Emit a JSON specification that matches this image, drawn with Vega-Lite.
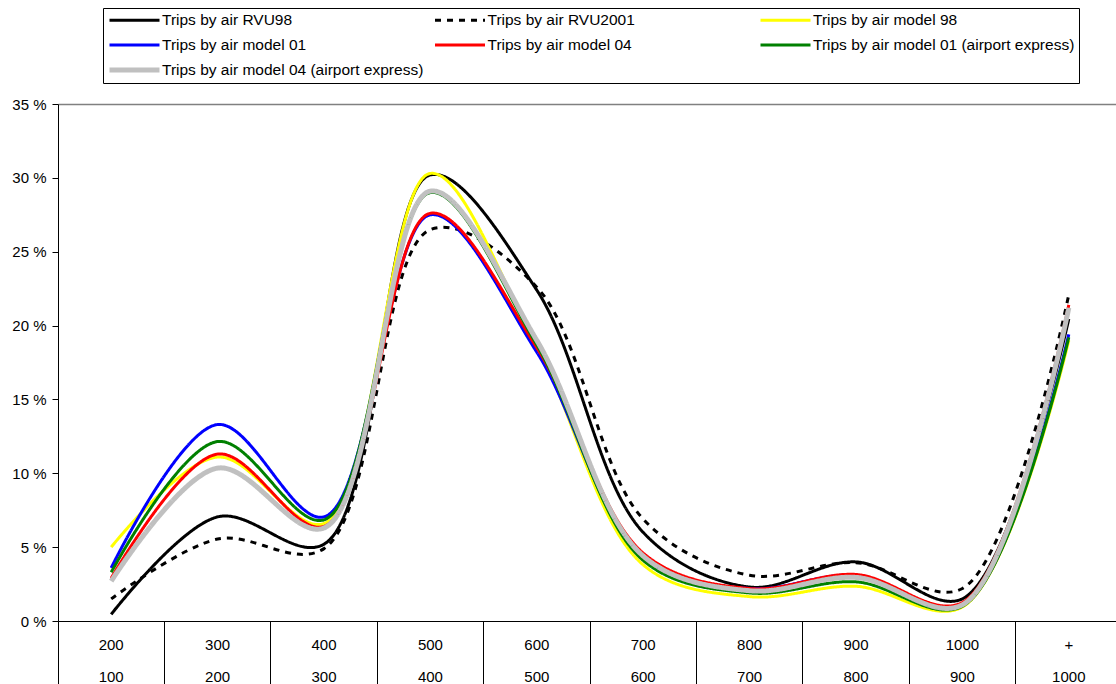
{
  "$schema": "https://vega.github.io/schema/vega-lite/v6.json",
  "autosize": {"type": "none"},
  "padding": {"left": 58, "top": 104, "right": -6, "bottom": 63},
  "width": 1064,
  "height": 517,
  "background": "white",
  "config": {
    "view": {"stroke": null},
    "font": "Liberation Sans"
  },
  "data": {
    "values": [
      {"cat": "200|100", "series": "Trips by air RVU98", "value": 0.45},
      {"cat": "300|200", "series": "Trips by air RVU98", "value": 7.05},
      {"cat": "400|300", "series": "Trips by air RVU98", "value": 5.2},
      {"cat": "500|400", "series": "Trips by air RVU98", "value": 30.2},
      {"cat": "600|500", "series": "Trips by air RVU98", "value": 22.4},
      {"cat": "700|600", "series": "Trips by air RVU98", "value": 6.0},
      {"cat": "800|700", "series": "Trips by air RVU98", "value": 2.3},
      {"cat": "900|800", "series": "Trips by air RVU98", "value": 4.0},
      {"cat": "1000|900", "series": "Trips by air RVU98", "value": 1.5},
      {"cat": "+|1000", "series": "Trips by air RVU98", "value": 20.45},

      {"cat": "200|100", "series": "Trips by air RVU2001", "value": 1.5},
      {"cat": "300|200", "series": "Trips by air RVU2001", "value": 5.55},
      {"cat": "400|300", "series": "Trips by air RVU2001", "value": 4.9},
      {"cat": "500|400", "series": "Trips by air RVU2001", "value": 26.5},
      {"cat": "600|500", "series": "Trips by air RVU2001", "value": 22.6},
      {"cat": "700|600", "series": "Trips by air RVU2001", "value": 6.9},
      {"cat": "800|700", "series": "Trips by air RVU2001", "value": 3.1},
      {"cat": "900|800", "series": "Trips by air RVU2001", "value": 3.95},
      {"cat": "1000|900", "series": "Trips by air RVU2001", "value": 2.2},
      {"cat": "+|1000", "series": "Trips by air RVU2001", "value": 22.1},

      {"cat": "200|100", "series": "Trips by air model 98", "value": 5.0},
      {"cat": "300|200", "series": "Trips by air model 98", "value": 11.1},
      {"cat": "400|300", "series": "Trips by air model 98", "value": 6.6},
      {"cat": "500|400", "series": "Trips by air model 98", "value": 30.3},
      {"cat": "600|500", "series": "Trips by air model 98", "value": 18.6},
      {"cat": "700|600", "series": "Trips by air model 98", "value": 3.8},
      {"cat": "800|700", "series": "Trips by air model 98", "value": 1.65},
      {"cat": "900|800", "series": "Trips by air model 98", "value": 2.35},
      {"cat": "1000|900", "series": "Trips by air model 98", "value": 0.95},
      {"cat": "+|1000", "series": "Trips by air model 98", "value": 19.0},

      {"cat": "200|100", "series": "Trips by air model 01", "value": 3.6},
      {"cat": "300|200", "series": "Trips by air model 01", "value": 13.3},
      {"cat": "400|300", "series": "Trips by air model 01", "value": 7.05},
      {"cat": "500|400", "series": "Trips by air model 01", "value": 27.5},
      {"cat": "600|500", "series": "Trips by air model 01", "value": 18.2},
      {"cat": "700|600", "series": "Trips by air model 01", "value": 4.3},
      {"cat": "800|700", "series": "Trips by air model 01", "value": 2.2},
      {"cat": "900|800", "series": "Trips by air model 01", "value": 3.1},
      {"cat": "1000|900", "series": "Trips by air model 01", "value": 1.05},
      {"cat": "+|1000", "series": "Trips by air model 01", "value": 19.4},

      {"cat": "200|100", "series": "Trips by air model 04", "value": 2.9},
      {"cat": "300|200", "series": "Trips by air model 04", "value": 11.3},
      {"cat": "400|300", "series": "Trips by air model 04", "value": 6.4},
      {"cat": "500|400", "series": "Trips by air model 04", "value": 27.6},
      {"cat": "600|500", "series": "Trips by air model 04", "value": 18.5},
      {"cat": "700|600", "series": "Trips by air model 04", "value": 4.6},
      {"cat": "800|700", "series": "Trips by air model 04", "value": 2.2},
      {"cat": "900|800", "series": "Trips by air model 04", "value": 3.15},
      {"cat": "1000|900", "series": "Trips by air model 04", "value": 1.25},
      {"cat": "+|1000", "series": "Trips by air model 04", "value": 21.4},

      {"cat": "200|100", "series": "Trips by air model 01 (airport express)", "value": 3.3},
      {"cat": "300|200", "series": "Trips by air model 01 (airport express)", "value": 12.15},
      {"cat": "400|300", "series": "Trips by air model 01 (airport express)", "value": 6.85},
      {"cat": "500|400", "series": "Trips by air model 01 (airport express)", "value": 29.0},
      {"cat": "600|500", "series": "Trips by air model 01 (airport express)", "value": 18.7},
      {"cat": "700|600", "series": "Trips by air model 01 (airport express)", "value": 4.1},
      {"cat": "800|700", "series": "Trips by air model 01 (airport express)", "value": 1.9},
      {"cat": "900|800", "series": "Trips by air model 01 (airport express)", "value": 2.65},
      {"cat": "1000|900", "series": "Trips by air model 01 (airport express)", "value": 1.0},
      {"cat": "+|1000", "series": "Trips by air model 01 (airport express)", "value": 19.2},

      {"cat": "200|100", "series": "Trips by air model 04 (airport express)", "value": 2.7},
      {"cat": "300|200", "series": "Trips by air model 04 (airport express)", "value": 10.35},
      {"cat": "400|300", "series": "Trips by air model 04 (airport express)", "value": 6.3},
      {"cat": "500|400", "series": "Trips by air model 04 (airport express)", "value": 29.1},
      {"cat": "600|500", "series": "Trips by air model 04 (airport express)", "value": 19.0},
      {"cat": "700|600", "series": "Trips by air model 04 (airport express)", "value": 4.4},
      {"cat": "800|700", "series": "Trips by air model 04 (airport express)", "value": 2.05},
      {"cat": "900|800", "series": "Trips by air model 04 (airport express)", "value": 2.95},
      {"cat": "1000|900", "series": "Trips by air model 04 (airport express)", "value": 1.1},
      {"cat": "+|1000", "series": "Trips by air model 04 (airport express)", "value": 21.2}
    ]
  },
  "mark": {"type": "line", "interpolate": "catmull-rom", "strokeCap": "butt"},
  "encoding": {
    "x": {
      "field": "cat",
      "type": "ordinal",
      "bandPosition": 0.5,
      "sort": ["200|100", "300|200", "400|300", "500|400", "600|500", "700|600", "800|700", "900|800", "1000|900", "+|1000"],
      "scale": {"type": "band", "paddingInner": 0, "paddingOuter": 0},
      "axis": {
        "title": null,
        "bandPosition": 0,
        "domainColor": "black",
        "domainWidth": 1,
        "tickColor": "black",
        "tickWidth": 1,
        "tickSize": 63,
        "labelPadding": -47,
        "labelBaseline": "top",
        "labelAngle": 0,
        "labelFontSize": 15,
        "labelColor": "black",
        "labelLineHeight": 32,
        "labelExpr": "split(datum.label, '|')"
      }
    },
    "y": {
      "field": "value",
      "type": "quantitative",
      "scale": {"domain": [0, 35], "nice": false},
      "axis": {
        "title": null,
        "values": [0, 5, 10, 15, 20, 25, 30, 35],
        "labelExpr": "datum.value + ' %'",
        "domainColor": "black",
        "tickColor": "black",
        "tickSize": 6,
        "labelPadding": 6,
        "labelFontSize": 15,
        "labelColor": "black",
        "grid": true,
        "gridColor": "#808080",
        "gridWidth": 1.5,
        "gridOpacity": {"condition": {"test": "datum.value == 35", "value": 1}, "value": 0}
      }
    },
    "color": {
      "field": "series",
      "type": "nominal",
      "scale": {
        "domain": ["Trips by air RVU98", "Trips by air RVU2001", "Trips by air model 98", "Trips by air model 01", "Trips by air model 04", "Trips by air model 01 (airport express)", "Trips by air model 04 (airport express)"],
        "range": ["#000000", "#000000", "#FFFF00", "#0000FF", "#FF0000", "#008000", "#C0C0C0"]
      },
      "legend": {
        "title": null,
        "orient": "none",
        "legendX": 45,
        "legendY": -96,
        "direction": "horizontal",
        "columns": 3,
        "gridAlign": "all",
        "columnPadding": 8.5,
        "rowPadding": 8,
        "clipHeight": 16,
        "symbolType": "stroke",
        "symbolSize": 2500,
        "labelFontSize": 15.5,
        "labelColor": "black",
        "labelOffset": 0,
        "labelLimit": 400,
        "strokeColor": "black",
        "fillColor": "white",
        "padding": 4
      }
    },
    "strokeDash": {
      "field": "series",
      "type": "nominal",
      "scale": {
        "domain": ["Trips by air RVU98", "Trips by air RVU2001", "Trips by air model 98", "Trips by air model 01", "Trips by air model 04", "Trips by air model 01 (airport express)", "Trips by air model 04 (airport express)"],
        "range": [[1, 0], [6, 6], [1, 0], [1, 0], [1, 0], [1, 0], [1, 0]]
      },
      "legend": null
    },
    "strokeWidth": {
      "field": "series",
      "type": "nominal",
      "scale": {
        "type": "ordinal",
        "domain": ["Trips by air RVU98", "Trips by air RVU2001", "Trips by air model 98", "Trips by air model 01", "Trips by air model 04", "Trips by air model 01 (airport express)", "Trips by air model 04 (airport express)"],
        "range": [3, 3, 3, 3, 3, 3, 5]
      },
      "legend": null
    }
  }
}
